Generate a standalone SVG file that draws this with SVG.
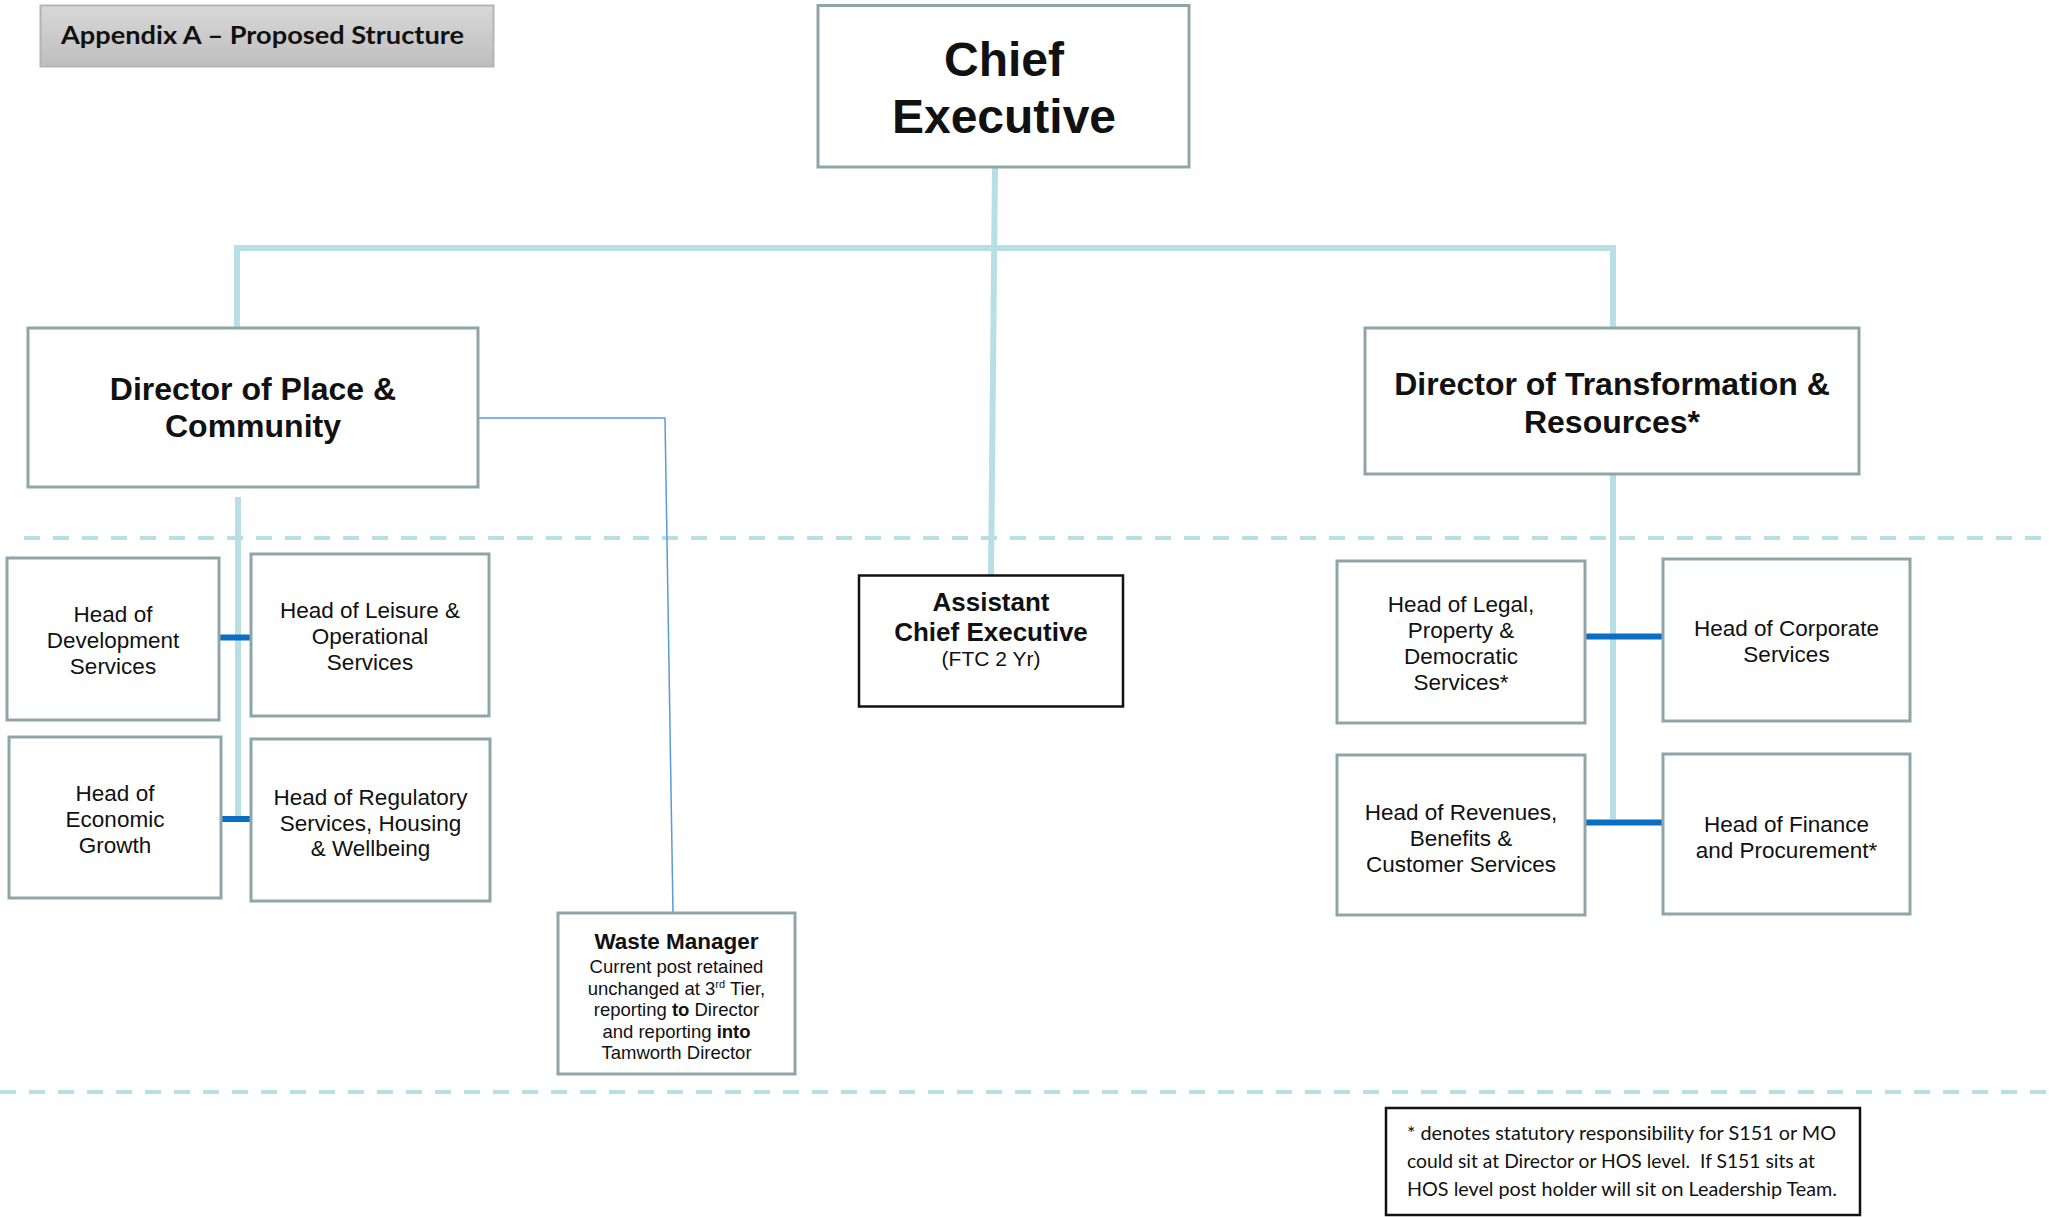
<svg xmlns="http://www.w3.org/2000/svg" width="2049" height="1217" viewBox="0 0 2049 1217">
  <defs>
    <linearGradient id="titleFill" x1="0" y1="0" x2="0" y2="1">
      <stop offset="0" stop-color="#d8d8d8"/>
      <stop offset="1" stop-color="#bebebe"/>
    </linearGradient>
  </defs>
  <style>
    .box { fill: #ffffff; stroke: #8fa6a9; stroke-width: 3; }
    .boxdark { fill: #ffffff; stroke: #111111; stroke-width: 2.5; }
    .trunk { stroke: #b8dfe3; stroke-width: 6; fill: none; }
    .link { stroke: #0a6fc2; stroke-width: 6; fill: none; }
    .thin { stroke: #5b9bd5; stroke-width: 1.5; fill: none; }
    .tier { stroke: #b8dfe3; stroke-width: 4; stroke-dasharray: 16 13; fill: none; }
    .t { font-family: "Liberation Sans", Arial, sans-serif; fill: #111111; text-anchor: middle; }
    .big { font-size: 48px; font-weight: bold; }
    .dir { font-size: 32px; font-weight: bold; }
    .head { font-size: 22.5px; }
    .small { font-size: 18.5px; }
    .cal { font-family: Lato, "Open Sans", sans-serif; fill: #111111; white-space: pre; }
  </style>

  <!-- tier separators -->
  <line class="tier" x1="24" y1="538" x2="2049" y2="538"/>
  <line class="tier" x1="0" y1="1092" x2="2049" y2="1092"/>

  <!-- reporting lines -->
  <g id="connectors">
    <line class="trunk" x1="995" y1="167" x2="991" y2="575"/>
    <line class="trunk" x1="237" y1="248" x2="1613" y2="248"/>
    <line class="trunk" x1="237" y1="245" x2="237" y2="328"/>
    <line class="trunk" x1="1613" y1="245" x2="1613" y2="328"/>
    <line class="trunk" x1="238" y1="497" x2="238" y2="821"/>
    <line class="trunk" x1="1613" y1="474" x2="1613" y2="819"/>
    <line class="link" x1="218" y1="637.5" x2="252" y2="637.5"/>
    <line class="link" x1="220" y1="819" x2="252" y2="819"/>
    <line class="link" x1="1585" y1="636.5" x2="1663" y2="636.5"/>
    <line class="link" x1="1585" y1="822.5" x2="1663" y2="822.5"/>
    <polyline class="thin" points="478,418 665,418 673,913"/>
  </g>

  <!-- heading tab -->
  <g id="title">
    <rect x="40.5" y="5.5" width="453" height="61" fill="url(#titleFill)" stroke="#b4b4b4" stroke-width="2"/>
    <text class="cal" x="61" y="44" font-size="25" font-weight="bold" textLength="403" lengthAdjust="spacingAndGlyphs">Appendix A – Proposed Structure</text>
  </g>

  <g id="chief-executive">
    <rect class="box" x="818" y="5.5" width="371" height="161.5"/>
    <text class="t big" x="1004" y="76">Chief</text>
    <text class="t big" x="1004" y="133">Executive</text>
  </g>

  <g id="director-place">
    <rect class="box" x="28" y="328" width="450" height="159"/>
    <text class="t dir" x="253" y="400">Director of Place &amp;</text>
    <text class="t dir" x="253" y="437">Community</text>
  </g>

  <g id="director-transformation">
    <rect class="box" x="1365" y="328" width="494" height="146"/>
    <text class="t dir" x="1612" y="395">Director of Transformation &amp;</text>
    <text class="t dir" x="1612" y="433">Resources*</text>
  </g>

  <g id="assistant-chief-executive">
    <rect class="boxdark" x="859" y="575.5" width="264" height="131"/>
    <text class="t" x="991" y="611" font-size="26" font-weight="bold">Assistant</text>
    <text class="t" x="991" y="641" font-size="26" font-weight="bold">Chief Executive</text>
    <text class="t" x="991" y="666" font-size="21">(FTC 2 Yr)</text>
  </g>

  <g id="head-development">
    <rect class="box" x="7" y="558" width="212" height="162"/>
    <text class="t head" x="113" y="622">Head of</text>
    <text class="t head" x="113" y="648">Development</text>
    <text class="t head" x="113" y="674">Services</text>
  </g>

  <g id="head-leisure">
    <rect class="box" x="251" y="554" width="238" height="162"/>
    <text class="t head" x="370" y="618">Head of Leisure &amp;</text>
    <text class="t head" x="370" y="644">Operational</text>
    <text class="t head" x="370" y="670">Services</text>
  </g>

  <g id="head-economic">
    <rect class="box" x="9" y="737" width="212" height="161"/>
    <text class="t head" x="115" y="801">Head of</text>
    <text class="t head" x="115" y="827">Economic</text>
    <text class="t head" x="115" y="853">Growth</text>
  </g>

  <g id="head-regulatory">
    <rect class="box" x="251" y="739" width="239" height="162"/>
    <text class="t head" x="370.5" y="805">Head of Regulatory</text>
    <text class="t head" x="370.5" y="831">Services, Housing</text>
    <text class="t head" x="370.5" y="856">&amp; Wellbeing</text>
  </g>

  <g id="waste-manager">
    <rect class="box" x="558" y="913" width="237" height="161"/>
    <text class="t" x="676.5" y="949" font-size="22.5" font-weight="bold">Waste Manager</text>
    <text class="t small" x="676.5" y="973">Current post retained</text>
    <text class="t small" x="676.5" y="994.5">unchanged at 3<tspan font-size="11" dy="-7">rd</tspan><tspan dy="7"> Tier,</tspan></text>
    <text class="t small" x="676.5" y="1016">reporting <tspan font-weight="bold">to</tspan> Director</text>
    <text class="t small" x="676.5" y="1037.5">and reporting <tspan font-weight="bold">into</tspan></text>
    <text class="t small" x="676.5" y="1059">Tamworth Director</text>
  </g>

  <g id="head-legal">
    <rect class="box" x="1337" y="561" width="248" height="162"/>
    <text class="t head" x="1461" y="612">Head of Legal,</text>
    <text class="t head" x="1461" y="638">Property &amp;</text>
    <text class="t head" x="1461" y="664">Democratic</text>
    <text class="t head" x="1461" y="690">Services*</text>
  </g>

  <g id="head-corporate">
    <rect class="box" x="1663" y="559" width="247" height="162"/>
    <text class="t head" x="1786.5" y="636">Head of Corporate</text>
    <text class="t head" x="1786.5" y="662">Services</text>
  </g>

  <g id="head-revenues">
    <rect class="box" x="1337" y="755" width="248" height="160"/>
    <text class="t head" x="1461" y="820">Head of Revenues,</text>
    <text class="t head" x="1461" y="846">Benefits &amp;</text>
    <text class="t head" x="1461" y="871.5">Customer Services</text>
  </g>

  <g id="head-finance">
    <rect class="box" x="1663" y="754" width="247" height="160"/>
    <text class="t head" x="1786.5" y="832">Head of Finance</text>
    <text class="t head" x="1786.5" y="858">and Procurement*</text>
  </g>

  <g id="footnote">
    <rect class="boxdark" x="1386" y="1108" width="474" height="107"/>
    <text class="cal" x="1407" y="1140" font-size="20" textLength="429" lengthAdjust="spacingAndGlyphs">* denotes statutory responsibility for S151 or MO</text>
    <text class="cal" x="1407" y="1168" font-size="20" textLength="408" lengthAdjust="spacingAndGlyphs">could sit at Director or HOS level.  If S151 sits at</text>
    <text class="cal" x="1407" y="1196" font-size="20" textLength="430" lengthAdjust="spacingAndGlyphs">HOS level post holder will sit on Leadership Team.</text>
  </g>
</svg>
